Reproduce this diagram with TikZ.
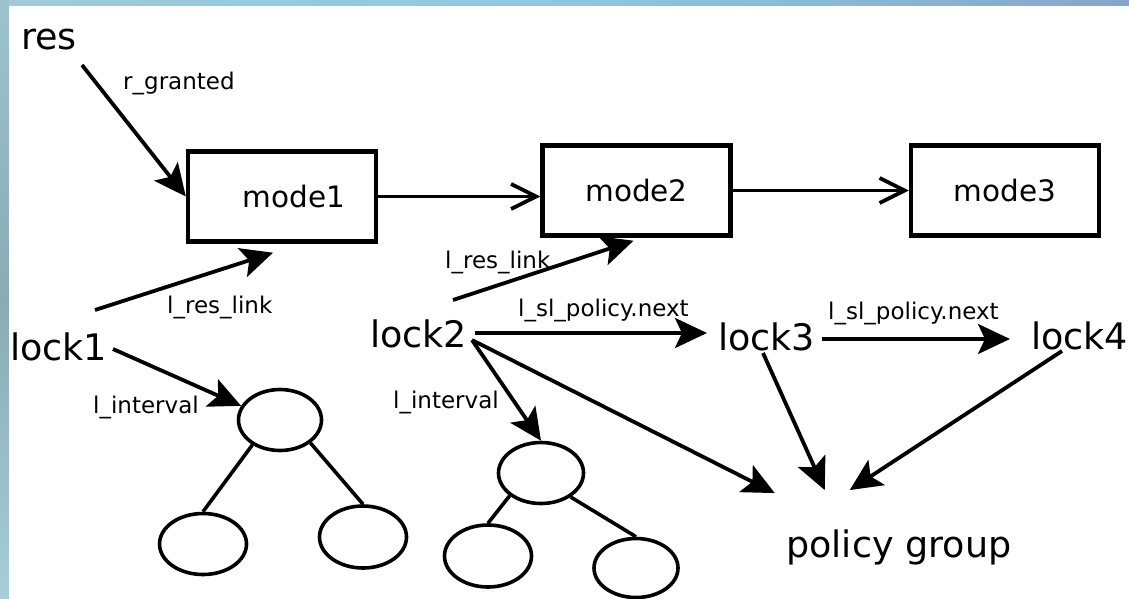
\documentclass[tikz,border=0pt]{standalone}
\usepackage{fontspec}
\setmainfont{DejaVu Sans}
\usetikzlibrary{arrows.meta,calc,shapes.geometric}
\definecolor{bgA}{HTML}{A3CADB}
\definecolor{bgB}{HTML}{8EC8E0}
\definecolor{bgC}{HTML}{88A6C6}
\definecolor{lfA}{HTML}{9EC2CF}
\definecolor{lfB}{HTML}{8AABB6}
\definecolor{lfC}{HTML}{BBE0F0}
\definecolor{lfD}{HTML}{A8CCD9}
\begin{document}
\begin{tikzpicture}[x=1pt,y=-1pt,
  big/.style={font=\fontsize{36.5}{40}\selectfont, inner sep=0pt, anchor=base west},
  lbl/.style={font=\fontsize{23}{26}\selectfont, inner sep=0pt, anchor=base west},
  modebox/.style={draw, line width=4.4pt, minimum width=188pt, minimum height=90pt, inner sep=0pt, font=\fontsize{29.5}{32}\selectfont},
  tnode/.style={draw, ellipse, line width=3.6pt, inner sep=0pt},
  arr/.style={line width=3.8pt, -{Stealth[length=32pt,width=30pt,inset=7pt]}},
  oarr/.style={line width=3.8pt, -{Straight Barb[length=25pt,width=25pt]}},
  treeedge/.style={line width=3.6pt}]
\useasboundingbox (0,0) rectangle (1129,598);
% background frame
\shade[left color=bgA, right color=bgC, middle color=bgB] (0,0) rectangle (1129,6);
\shade[top color=lfA, bottom color=lfB] (0,0) rectangle (9,300);
\shade[top color=lfB, middle color=lfC, bottom color=lfD] (0,300) rectangle (9,598);
\fill[white] (9,6) rectangle (1129,598);

% text nodes
\node[big] (res) at (21,49) {res};
\node[big] (lock1) at (10,360) {lock1};
\node[big] (lock2) at (370,347) {lock2};
\node[big] (lock3) at (718,350) {lock3};
\node[big] (lock4) at (1031,349) {lock4};
\node[big] (policy) at (786,557) {policy group};

% mode boxes
\node[modebox] (mode1) at (282,196.5) {\hspace*{24pt}mode1};
\node[modebox] (mode2) at (636.5,190.5) {mode2};
\node[modebox] (mode3) at (1005,190.5) {mode3};

% interval trees
\node[tnode, minimum width=83pt, minimum height=61pt] (r1) at (280,420) {};
\node[tnode, minimum width=87pt, minimum height=61pt] (a1) at (203,544) {};
\node[tnode, minimum width=87pt, minimum height=62pt] (b1) at (363,537) {};
\node[tnode, minimum width=85pt, minimum height=61pt] (r2) at (541,473) {};
\node[tnode, minimum width=87pt, minimum height=62pt] (a2) at (488,556) {};
\node[tnode, minimum width=84pt, minimum height=59pt] (b2) at (636,568) {};
\draw[treeedge] (r1.222) -- (a1.north);
\draw[treeedge] (r1.-37) -- (b1.north);
\draw[treeedge] (r2.216) -- (a2.north);
\draw[treeedge] (r2.-39) -- (b2.north);

% labels
\node[lbl] (lg) at (123,89) {r\_granted};
\node[lbl] (lrl1) at (167,313) {l\_res\_link};
\node[lbl] (li1) at (93,413) {l\_interval};
\node[lbl] (lrl2) at (445,268) {l\_res\_link};
\node[lbl] (lsp1) at (518,316) {l\_sl\_policy.next};
\node[lbl] (lsp2) at (828,319) {l\_sl\_policy.next};
\node[lbl] (li2) at (393,408) {l\_interval};

% connector tails
\coordinate (resT) at (82,65);
\coordinate (l1T) at (95,310);
\coordinate (l1I) at (113,349);
\coordinate (l2T) at (453,300);
\coordinate (l2S) at (475,333);
\coordinate (l2D) at (472,340);
\coordinate (l3S) at (822,339);
\coordinate (l3D) at (763,353);
\coordinate (l4D) at (1062,351);

% connectors
\draw[arr] (resT) -- (mode1.west);
\draw[arr] (l1T) -- ($(mode1.south)+(-9,9)$);
\draw[oarr] (mode1.east) -- (mode1.east -| mode2.west);
\draw[oarr] (mode2.east) -- (mode3.west);
\draw[arr] (l2T) -- ($(mode2.south)+(-3,3)$);
\draw[arr] (l1I) -- (r1.160);
\draw[arr] (l2D) -- (r2.north);
\draw[arr, shorten >=11pt] (l2S) -- (l2S -| lock3.west);
\draw[arr, shorten >=21pt] (l3S) -- (l3S -| lock4.west);
\draw[arr] (l2D) -- ($(policy.north)+(-124,-36)$);
\draw[arr] (l3D) -- ($(policy.north)+(-74,-39)$);
\draw[arr] (l4D) -- ($(policy.north)+(-49,-39)$);
\end{tikzpicture}
\end{document}
